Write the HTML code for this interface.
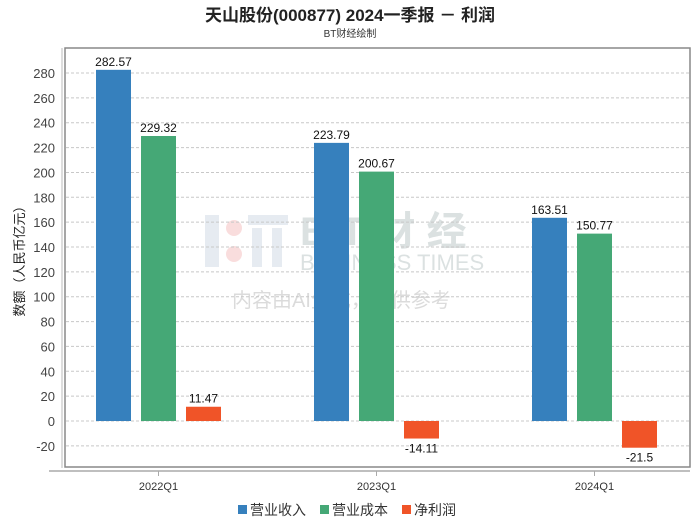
<!DOCTYPE html>
<html><head><meta charset="utf-8"><style>
body{margin:0;background:#fff;}
svg text{font-family:"Liberation Sans","Noto Sans CJK SC",sans-serif;}
</style></head><body>
<svg id="c" width="700" height="524" xmlns="http://www.w3.org/2000/svg">
<text x="350" y="21" text-anchor="middle" font-size="17" font-weight="bold" fill="#222">天山股份(000877) 2024一季报 － 利润</text>
<text x="350" y="37" text-anchor="middle" font-size="10" fill="#333">BT财经绘制</text>
<g opacity="0.35">
<rect x="205" y="215" width="14" height="52" fill="#b8c8d8"/>
<circle cx="234" cy="228" r="8" fill="#f0a0a0"/><circle cx="234" cy="254" r="8" fill="#f0a0a0"/>
<rect x="248" y="215" width="40" height="10" fill="#b8c8d8"/><rect x="252" y="228" width="10" height="39" fill="#b8c8d8"/><rect x="272" y="228" width="10" height="39" fill="#b8c8d8"/>
<text x="300" y="245" font-size="40" font-weight="bold" fill="#9aa" font-family="Liberation Serif">B T 财 经</text>
<text x="300" y="270" font-size="22" fill="#9aa" font-family="Liberation Serif">BUSINESS TIMES</text>
<text x="232" y="307" font-size="20" fill="#999">内容由AI生成，仅供参考</text>
</g>
<g id="plot"></g>
<text transform="translate(24,258) rotate(-90)" text-anchor="middle" font-size="13" fill="#222">数额（人民币亿元）</text>
<g>
<rect x="238" y="505" width="9" height="9" fill="#3680bd"/>
<text x="250" y="515" font-size="14" fill="#333">营业收入</text>
<rect x="320" y="505" width="9" height="9" fill="#45a876"/>
<text x="332" y="515" font-size="14" fill="#333">营业成本</text>
<rect x="402" y="505" width="9" height="9" fill="#f05428"/>
<text x="414" y="515" font-size="14" fill="#333">净利润</text>
</g>
</svg>
<script>
const categories=["2022Q1","2023Q1","2024Q1"];
const revenue=[282.57,223.79,163.51];
const cost=[229.32,200.67,150.77];
const profit=[11.47,-14.11,-21.5];
const yTicks=[-20,0,20,40,60,80,100,120,140,160,180,200,220,240,260,280];
const NS="http://www.w3.org/2000/svg";
const g=document.getElementById('plot');
const y=v=>421-v*1.2428;
const xc=i=>158.5+i*218;
function mk(t,a,p){const e=document.createElementNS(NS,t);for(const k in a)e.setAttribute(k,a[k]);(p||g).appendChild(e);return e;}
const f=mk('rect',{x:65,y:48,width:625,height:419,fill:'none',stroke:'#888','stroke-width':1.5});


mk('line',{x1:62,y1:48,x2:62,y2:468,stroke:'#bbb'});
const xa=mk('line',{x1:49,y1:471,x2:690,y2:471,stroke:'#aaa','stroke-width':1.5});


yTicks.forEach(v=>{
 const l=mk('line',{x1:66,x2:689,y1:y(v),y2:y(v),stroke:'#c8c8c8','stroke-dasharray':'3,2'});
 
 
 const t=mk('text',{x:55,y:y(v)+5,'text-anchor':'end','font-size':13,fill:'#444'});
 t.textContent=v;
 
 
});
categories.forEach((c,i)=>{
 mk('line',{x1:xc(i),x2:xc(i),y1:471,y2:476,stroke:'#aaa'});
 const t=mk('text',{x:xc(i),y:490,'text-anchor':'middle','font-size':11,fill:'#333'});
 t.textContent=c;
 
 
});
const series=[[revenue,'#3680bd','revenue'],[cost,'#45a876','cost'],[profit,'#f05428','profit']];
series.forEach(([arr,col,nm],s)=>{
 arr.forEach((v,i)=>{
  const x=xc(i)-62.5+s*45;
  const top=Math.min(y(v),y(0)),h=Math.abs(y(v)-y(0));
  const r=mk('rect',{x:x,y:top,width:35,height:h,fill:col});
  
  
  const t=mk('text',{x:x+17.5,y:v>=0?y(v)-4:y(v)+14,'text-anchor':'middle','font-size':12,fill:'#111'});
  t.textContent=v;
  
  
 });
});
</script>
</body></html>
